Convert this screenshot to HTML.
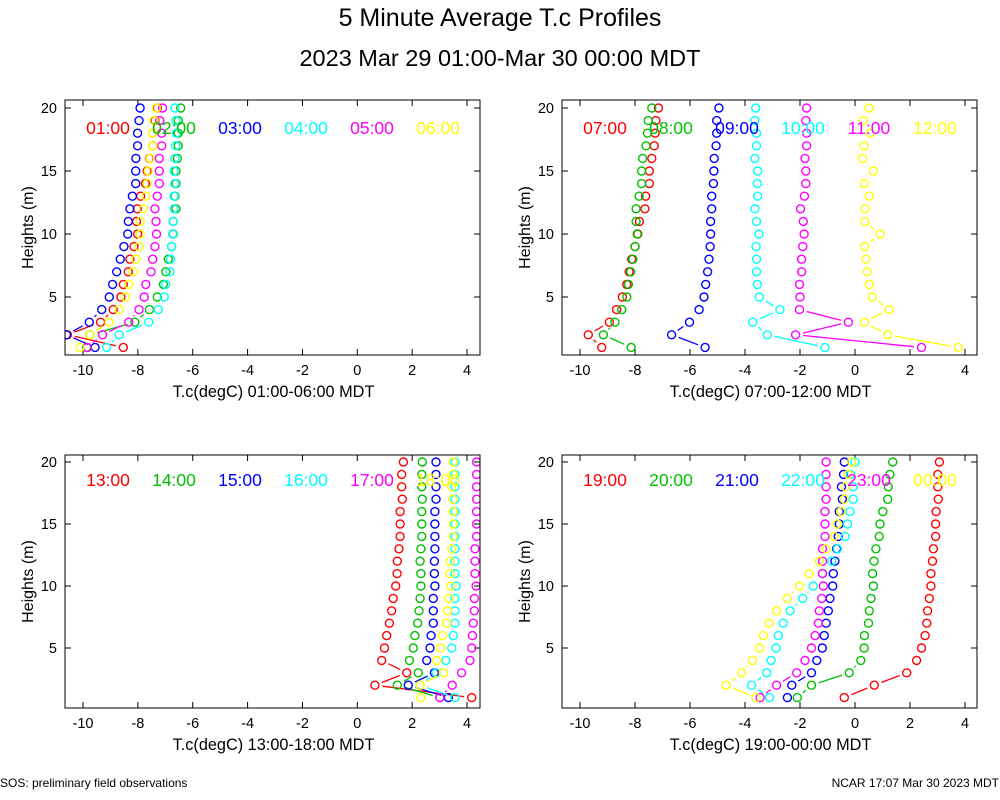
<!DOCTYPE html>
<html><head><meta charset="utf-8"><style>
body{margin:0;background:#fff;}
svg{display:block;font-family:"Liberation Sans",sans-serif;}
</style></head><body>
<svg id="c" width="1000" height="800" viewBox="0 0 1000 800">
<text x="500" y="26" font-size="25" text-anchor="middle">5 Minute Average T.c Profiles</text>
<text x="500" y="66" font-size="23.5" text-anchor="middle">2023 Mar 29 01:00-Mar 30 00:00 MDT</text>
<text x="0" y="787" font-size="12">SOS: preliminary field observations</text>
<text x="999" y="787" font-size="12" text-anchor="end">NCAR 17:07 Mar 30 2023 MDT</text>
</svg>
<script>
// heights listed from 20 m down to 1 m
const heights=[20,19,18,17,16,15,14,13,12,11,10,9,8,7,6,5,4,3,2,1];
const colors=["#ff0000","#00c000","#0000ff","#00ffff","#ff00ff","#ffff00"];
const xTicks=[-10,-8,-6,-4,-2,0,2,4];
const yTicks=[5,10,15,20];
const labelsP1=["01:00","02:00","03:00","04:00","05:00","06:00"];
const labelsP2=["07:00","08:00","09:00","10:00","11:00","12:00"];
const labelsP3=["13:00","14:00","15:00","16:00","17:00","18:00"];
const labelsP4=["19:00","20:00","21:00","22:00","23:00","00:00"];
const p1s1=[-7.29,-7.38,-7.46,-7.46,-7.58,-7.66,-7.72,-7.90,-8.02,-8.05,-8.01,-8.14,-8.29,-8.35,-8.53,-8.62,-8.90,-9.36,-10.57,-8.53];
const p1s2=[-6.44,-6.53,-6.53,-6.53,-6.56,-6.61,-6.61,-6.65,-6.61,-6.71,-6.71,-6.77,-6.89,-6.98,-7.07,-7.29,-7.58,-8.11,-9.75,-9.87];
const p1s3=[-7.92,-7.96,-8.01,-8.01,-8.07,-8.08,-8.08,-8.20,-8.29,-8.35,-8.37,-8.51,-8.64,-8.77,-8.92,-9.04,-9.32,-9.77,-10.60,-9.56];
const p1s4=[-6.65,-6.61,-6.59,-6.62,-6.65,-6.68,-6.65,-6.68,-6.68,-6.71,-6.73,-6.77,-6.81,-6.83,-6.98,-7.04,-7.26,-7.60,-8.68,-9.14];
const p1s5=[-7.10,-7.20,-7.13,-7.13,-7.22,-7.22,-7.22,-7.29,-7.38,-7.34,-7.32,-7.38,-7.46,-7.52,-7.71,-7.77,-7.96,-8.33,-9.29,-9.84];
const p1s6=[-7.32,-7.41,-7.46,-7.46,-7.56,-7.62,-7.66,-7.71,-7.80,-7.92,-7.92,-7.96,-8.07,-8.17,-8.33,-8.45,-8.68,-9.05,-9.75,-10.11];
const p2s1=[-7.15,-7.24,-7.27,-7.30,-7.39,-7.48,-7.48,-7.61,-7.64,-7.84,-7.90,-8.00,-8.12,-8.21,-8.30,-8.46,-8.67,-8.93,-9.70,-9.21];
const p2s2=[-7.39,-7.52,-7.55,-7.60,-7.72,-7.76,-7.76,-7.85,-7.96,-7.96,-7.92,-8.00,-8.08,-8.16,-8.24,-8.30,-8.48,-8.73,-9.15,-8.14];
const p2s3=[-4.95,-5.03,-5.03,-5.05,-5.12,-5.13,-5.15,-5.21,-5.21,-5.25,-5.25,-5.27,-5.31,-5.36,-5.43,-5.49,-5.67,-6.02,-6.67,-5.45];
const p2s4=[-3.61,-3.64,-3.58,-3.58,-3.64,-3.54,-3.55,-3.54,-3.64,-3.58,-3.49,-3.60,-3.58,-3.58,-3.55,-3.48,-2.73,-3.72,-3.19,-1.09];
const p2s5=[-1.76,-1.79,-1.76,-1.76,-1.82,-1.79,-1.79,-1.84,-1.98,-1.88,-1.85,-1.90,-1.94,-1.94,-2.02,-2.00,-2.02,-0.24,-2.16,2.42];
const p2s6=[0.51,0.30,0.55,0.33,0.28,0.67,0.33,0.52,0.36,0.36,0.91,0.34,0.40,0.45,0.52,0.63,1.24,0.34,1.19,3.76];
const p3s1=[1.68,1.62,1.62,1.64,1.56,1.56,1.56,1.52,1.46,1.45,1.40,1.31,1.25,1.17,1.07,0.99,0.89,1.80,0.64,4.17];
const p3s2=[2.37,2.35,2.35,2.37,2.35,2.35,2.35,2.32,2.29,2.32,2.32,2.29,2.25,2.20,2.10,2.04,1.90,2.22,1.46,3.01];
const p3s3=[2.87,2.87,2.87,2.87,2.83,2.83,2.83,2.83,2.81,2.81,2.83,2.77,2.77,2.77,2.69,2.65,2.53,2.81,1.86,3.32];
const p3s4=[3.56,3.56,3.56,3.56,3.56,3.56,3.56,3.56,3.56,3.56,3.60,3.56,3.56,3.56,3.50,3.44,3.23,2.87,2.29,3.56];
const p3s5=[4.35,4.35,4.35,4.35,4.35,4.35,4.35,4.29,4.29,4.29,4.33,4.27,4.27,4.23,4.20,4.17,4.11,3.80,3.46,3.01];
const p3s6=[3.50,3.50,3.44,3.48,3.50,3.50,3.50,3.44,3.38,3.38,3.41,3.35,3.29,3.26,3.11,3.04,2.89,3.14,2.29,2.32];
const p4s1=[3.07,3.01,3.01,3.03,2.95,2.93,2.93,2.85,2.82,2.76,2.76,2.70,2.64,2.61,2.55,2.42,2.24,1.88,0.70,-0.39];
const p4s2=[1.37,1.27,1.21,1.19,1.01,0.91,0.88,0.76,0.69,0.64,0.67,0.58,0.52,0.49,0.34,0.33,0.21,-0.21,-1.58,-2.10];
const p4s3=[-0.39,-0.42,-0.49,-0.46,-0.57,-0.57,-0.61,-0.67,-0.73,-0.79,-0.81,-0.91,-0.97,-1.05,-1.12,-1.19,-1.39,-1.58,-2.30,-2.46];
const p4s4=[0.00,-0.16,-0.06,-0.06,-0.18,-0.27,-0.36,-0.64,-0.85,-1.18,-1.52,-1.90,-2.36,-2.61,-2.79,-2.87,-3.05,-3.21,-3.76,-3.11];
const p4s5=[-1.05,-1.05,-1.05,-1.05,-1.09,-1.09,-1.09,-1.18,-1.18,-1.18,-1.15,-1.21,-1.30,-1.33,-1.45,-1.58,-1.82,-2.12,-2.85,-3.45];
const p4s6=[-0.12,-0.24,-0.34,-0.39,-0.52,-0.64,-0.76,-1.05,-1.30,-1.67,-2.02,-2.46,-2.85,-3.13,-3.33,-3.48,-3.73,-4.12,-4.69,-3.60];

const NS="http://www.w3.org/2000/svg";
const svg=document.getElementById('c');
function mk(tag,attrs,parent){const e=document.createElementNS(NS,tag);for(const k in attrs)e.setAttribute(k,attrs[k]);(parent||svg).appendChild(e);return e;}

const panels=[
 {id:1,L:65,R:480,T:100,B:355,x0:83,xk:27.43,y5:297,yk:12.6,series:[p1s1,p1s2,p1s3,p1s4,p1s5,p1s6],labels:labelsP1,xlab:"T.c(degC) 01:00-06:00 MDT",ly:134},
 {id:2,L:562,R:977,T:100,B:355,x0:580,xk:27.5,y5:297,yk:12.6,series:[p2s1,p2s2,p2s3,p2s4,p2s5,p2s6],labels:labelsP2,xlab:"T.c(degC) 07:00-12:00 MDT",ly:134},
 {id:3,L:65,R:480,T:455,B:708,x0:83,xk:27.43,y5:648,yk:12.4,series:[p3s1,p3s2,p3s3,p3s4,p3s5,p3s6],labels:labelsP3,xlab:"T.c(degC) 13:00-18:00 MDT",ly:486},
 {id:4,L:562,R:977,T:455,B:708,x0:580,xk:27.5,y5:648,yk:12.4,series:[p4s1,p4s2,p4s3,p4s4,p4s5,p4s6],labels:labelsP4,xlab:"T.c(degC) 19:00-00:00 MDT",ly:486}
];

panels.forEach(p=>{
  const xs=v=>p.x0+(v+10)*p.xk;
  const ys=h=>p.y5-(h-5)*p.yk;
  const g=mk('g',{});
  
  
  const cp=mk('clipPath',{id:'clip'+p.id},g);
  mk('rect',{x:p.L,y:p.T,width:p.R-p.L,height:p.B-p.T},cp);
  xTicks.forEach(t=>{
    const x=xs(t);
    const tk=mk('path',{d:`M${x},${p.B}v-6M${x},${p.T}v6`,stroke:'#000','stroke-width':1},g);
    
    
    const tl=mk('text',{x:x,y:p.B+20,'font-size':14.5,'text-anchor':'middle'},g);
    tl.textContent=String(t);
    
    
  });
  yTicks.forEach(t=>{
    const y=ys(t);
    const tk=mk('path',{d:`M${p.L},${y}h6M${p.R},${y}h-6`,stroke:'#000','stroke-width':1},g);
    
    
    const tl=mk('text',{x:p.L-8,y:y+5,'font-size':14.5,'text-anchor':'end'},g);
    tl.textContent=String(t);
    
    
  });
  const xl=mk('text',{x:(p.L+p.R)/2+1,y:p.B+42,'font-size':16.3,'text-anchor':'middle'},g);
  xl.textContent=p.xlab;
  
  
  const yx=p.L-32, yy=(p.T+p.B)/2;
  const yl=mk('text',{x:yx,y:yy,'font-size':16,'text-anchor':'middle',transform:`rotate(-90 ${yx} ${yy})`},g);
  yl.textContent='Heights (m)';
  
  
  const sg=mk('g',{'clip-path':`url(#clip${p.id})`},g);
  p.series.forEach((vals,si)=>{
    const col=colors[si];
    const pts=vals.map((v,i)=>[xs(v),ys(heights[i])]);
    let d='';
    const gap=7.5;
    for(let i=0;i<pts.length-1;i++){
      const [x1,y1]=pts[i],[x2,y2]=pts[i+1];
      const L=Math.hypot(x2-x1,y2-y1);
      if(L>2*gap+1){
        const ux=(x2-x1)/L,uy=(y2-y1)/L;
        d+=`M${(x1+ux*gap).toFixed(1)},${(y1+uy*gap).toFixed(1)}L${(x2-ux*gap).toFixed(1)},${(y2-uy*gap).toFixed(1)}`;
      }
    }
    if(d){const ln=mk('path',{d:d,stroke:col,'stroke-width':1.3,fill:'none'},sg);
      
      }
    pts.forEach(([x,y])=>{
      const c=mk('circle',{cx:x.toFixed(1),cy:y.toFixed(1),r:4,fill:'none',stroke:col,'stroke-width':1.4},sg);
      
      
    });
  });
  p.labels.forEach((lb,si)=>{
    const t=mk('text',{x:p.L+43+si*66,y:p.ly,'font-size':17.5,'text-anchor':'middle',fill:colors[si]},g);
    t.textContent=lb;
    
    
  });
  const fr=mk('rect',{x:p.L,y:p.T,width:p.R-p.L,height:p.B-p.T,fill:'none',stroke:'#000','stroke-width':1},g);
  
  
});
</script>
</body></html>
